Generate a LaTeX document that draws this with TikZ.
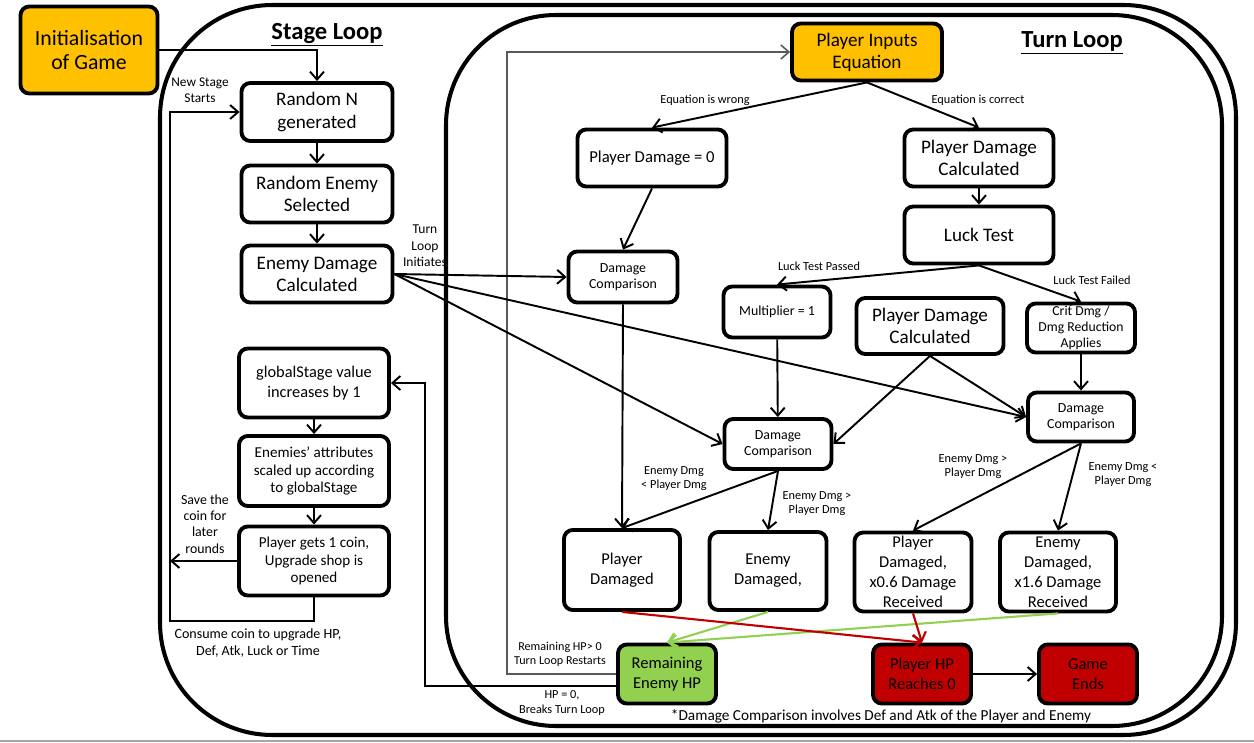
\documentclass[tikz,border=0pt]{standalone}
\usepackage{fontspec}
\setmainfont{Carlito}
\usepackage{tikz}
\usetikzlibrary{arrows.meta,positioning,calc}
\definecolor{amber}{RGB}{255,192,0}
\definecolor{leaf}{RGB}{146,208,80}
\definecolor{crimson}{RGB}{192,0,0}
\newcommand{\fnt}[2]{\fontsize{#1}{#2}\selectfont}

\begin{document}
\begin{tikzpicture}[x=0.02cm,y=-0.02cm,
  >={Straight Barb[length=1.6mm,width=2.8mm]},
  box/.style={draw,line width=2.2pt,rounded corners=5pt,fill=white,align=center,inner sep=1pt},
  sz/.style 2 args={minimum width=#1*0.02cm,minimum height=#2*0.02cm},
  txtL/.style={font=\fnt{10.9}{12.6}},
  txtN/.style={font=\fnt{9.4}{11.3}},
  txtM/.style={font=\fnt{8.6}{10.2}},
  txtS/.style={font=\fnt{7.9}{9.2}},
  lbl/.style={font=\fnt{7}{8},align=center,inner sep=0pt},
  flow/.style={->,line width=1.1pt}]
\useasboundingbox (0,0) rectangle (1254,743);

\draw[line width=2.3pt,rounded corners=2.25cm] (160,5) rectangle (1236,735);
\draw[line width=2.3pt,rounded corners=2.2cm] (446,15) rectangle (1222,726);
\draw[gray!70,line width=0.6pt] (0,741) -- (1254,741);

\node (stitle) at (327,35) {\fnt{14}{16}\bfseries\underline{Stage Loop}};
\node (ttitle) at (1072,43) {\fnt{14}{16}\bfseries\underline{Turn Loop}};

\node[box,sz={137}{87},fill=amber,font=\fnt{12.4}{14.2}] (init) at (89,50) {Initialisation\\of Game};
\node[box,txtL,sz={151}{58}] (randn) at (317,112) {Random N\\generated};
\node[box,txtL,sz={151}{57}] (renemy) at (317,194) {Random Enemy\\Selected};
\node[box,txtL,sz={151}{57}] (edmg) at (317,274) {Enemy Damage\\Calculated};
\node[box,sz={150}{69},font=\fnt{9.3}{11.5}] (gstage) at (314,383) {globalStage value\\increases by 1};
\node[box,txtM,sz={150}{70}] (scale) at (314,471) {Enemies’ attributes\\scaled up according\\to globalStage};
\node[box,txtM,sz={150}{69}] (coin) at (314,561) {Player gets 1 coin,\\Upgrade shop is\\opened};

\node[box,txtL,sz={150}{57},fill=amber] (pinput) at (867,52) {Player Inputs\\Equation};
\node[box,sz={149}{57},font=\fnt{9.5}{11}] (pdzero) at (652,158) {Player Damage = 0};
\node[box,txtL,sz={149}{57}] (pdcalc) at (979,158) {Player Damage\\Calculated};
\node[box,txtL,sz={149}{57}] (luck) at (979,235) {Luck Test};
\node[box,txtS,sz={109}{51}] (dcA) at (623,277) {Damage\\Comparison};
\node[box,txtS,sz={107}{51}] (mult) at (777,312) {Multiplier = 1};
\node[box,txtL,sz={147}{56}] (pdcalcB) at (930,326) {Player Damage\\Calculated};
\node[box,sz={108}{49},font=\fnt{7.8}{9.2}] (crit) at (1081,328) {Crit Dmg /\\Dmg Reduction\\Applies};
\node[box,txtS,sz={107}{50}] (dcB) at (778,444) {Damage\\Comparison};
\node[box,txtS,sz={106}{49}] (dcC) at (1081,417) {Damage\\Comparison};
\node[box,txtN,sz={116}{80}] (pdmg) at (622,570) {Player\\Damaged};
\node[box,txtN,sz={117}{78}] (edmgd) at (768,571) {Enemy\\Damaged,};
\node[box,sz={117}{79},font=\fnt{9.4}{11.3}] (pdmgx) at (913,572) {Player\\Damaged,\\x0.6 Damage\\Received};
\node[box,sz={116}{79},font=\fnt{9.4}{11.3}] (edmgx) at (1058,572) {Enemy\\Damaged,\\x1.6 Damage\\Received};
\node[box,txtN,sz={98}{59},fill=leaf] (remhp) at (667,674) {Remaining\\Enemy HP};
\node[box,txtN,sz={98}{59},fill=crimson] (php) at (922,674) {Player HP\\Reaches 0};
\node[box,txtN,sz={98}{59},fill=crimson] (gend) at (1088,674) {Game\\Ends};

\coordinate (nsdown) at (314,621);
\coordinate (nsleft) at (170,621);
\coordinate (nsup) at (170,112);
\coordinate (savept) at (170,561);
\coordinate (rsturn) at (507,674);
\coordinate (brk) at (425,686);

\draw[flow] (init.east) -| (randn.north);
\draw[flow] (randn) -- (renemy);
\draw[flow] (renemy) -- (edmg);
\draw[flow] (gstage) -- (scale);
\draw[flow] (scale) -- (coin);
\draw[flow] (coin.south) -- (nsdown) -- (nsleft) -- (nsup) -- (randn.west);
\draw[flow] (coin.west) -- (savept);
\draw[->,line width=0.9pt,black!65] (remhp.west) -- (rsturn) |- (pinput.west);
\draw[flow] ([yshift=-0.24cm]remhp.west) -- (brk) |- (gstage.east);

\draw[flow] (edmg.east) -- (dcA.west);
\draw[flow] (edmg.east) -- (dcB.west);
\draw[flow] (edmg.east) -- (dcC.west);
\draw[flow] (pinput.south) -- (pdzero.north);
\draw[flow] (pinput.south) -- (pdcalc.north);
\draw[flow] (pdcalc) -- (luck);
\draw[flow] (pdzero.south) -- (dcA.north);
\draw[flow] (luck.south) -- (mult.north);
\draw[flow] (luck.south) -- (crit.north);
\draw[flow] (mult) -- (dcB);
\draw[flow] (crit) -- (dcC);
\draw[flow] (pdcalcB.south) -- (dcB.east);
\draw[flow] (pdcalcB.south) -- (dcC.west);
\draw[flow] (dcA.south) -- (pdmg.north);
\draw[flow] (dcB.south) -- (pdmg.north);
\draw[flow] (dcB.south) -- (edmgd.north);
\draw[flow] (dcC.south) -- (pdmgx.north);
\draw[flow] (dcC.south) -- (edmgx.north);
\draw[->,leaf,line width=1.2pt] (edmgd.south) -- (remhp.north);
\draw[->,leaf,line width=1.2pt] (edmgx.south) -- (remhp.north);
\draw[->,crimson,line width=1.2pt] (pdmg.south) -- (php.north);
\draw[->,crimson,line width=1.2pt] (pdmgx.south) -- (php.north);
\draw[flow] (php) -- (gend);

\node[lbl] (lwrong) at (705,100) {Equation is wrong};
\node[lbl] (lcorrect) at (978,100) {Equation is correct};
\node[lbl] (lpassed) at (819,266) {Luck Test Passed};
\node[lbl] (lfailed) at (1092,280) {Luck Test Failed};
\node[lbl,font=\fnt{7.7}{9.5}] (linit) at (425,246) {Turn\\Loop\\Initiates};
\node[lbl] (lltB) at (674,479) {Enemy Dmg\\< Player Dmg};
\node[lbl] (lgtB) at (817,504) {Enemy Dmg >\\Player Dmg};
\node[lbl] (lgtC) at (973,467) {Enemy Dmg >\\Player Dmg};
\node[lbl] (lltC) at (1123,475) {Enemy Dmg <\\Player Dmg};
\node[lbl,font=\fnt{7.6}{9}] (lnew) at (200,90) {New Stage\\Starts};
\node[lbl,font=\fnt{7.9}{9.3}] (lsave) at (205,524) {Save the\\coin for\\later\\rounds};
\node[lbl,font=\fnt{8}{9.3}] (lconsume) at (258,643) {Consume coin to upgrade HP,\\Def, Atk, Luck or Time};
\node[lbl,font=\fnt{6.9}{8}] (lrestart) at (560,654) {Remaining HP> 0\\Turn Loop Restarts};
\node[lbl,font=\fnt{7}{8}] (lbreak) at (562,703) {HP = 0,\\Breaks Turn Loop};
\node[lbl,font=\fnt{8.7}{10}] (lnote) at (881,716) {*Damage Comparison involves Def and Atk of the Player and Enemy};
\end{tikzpicture}
\end{document}
